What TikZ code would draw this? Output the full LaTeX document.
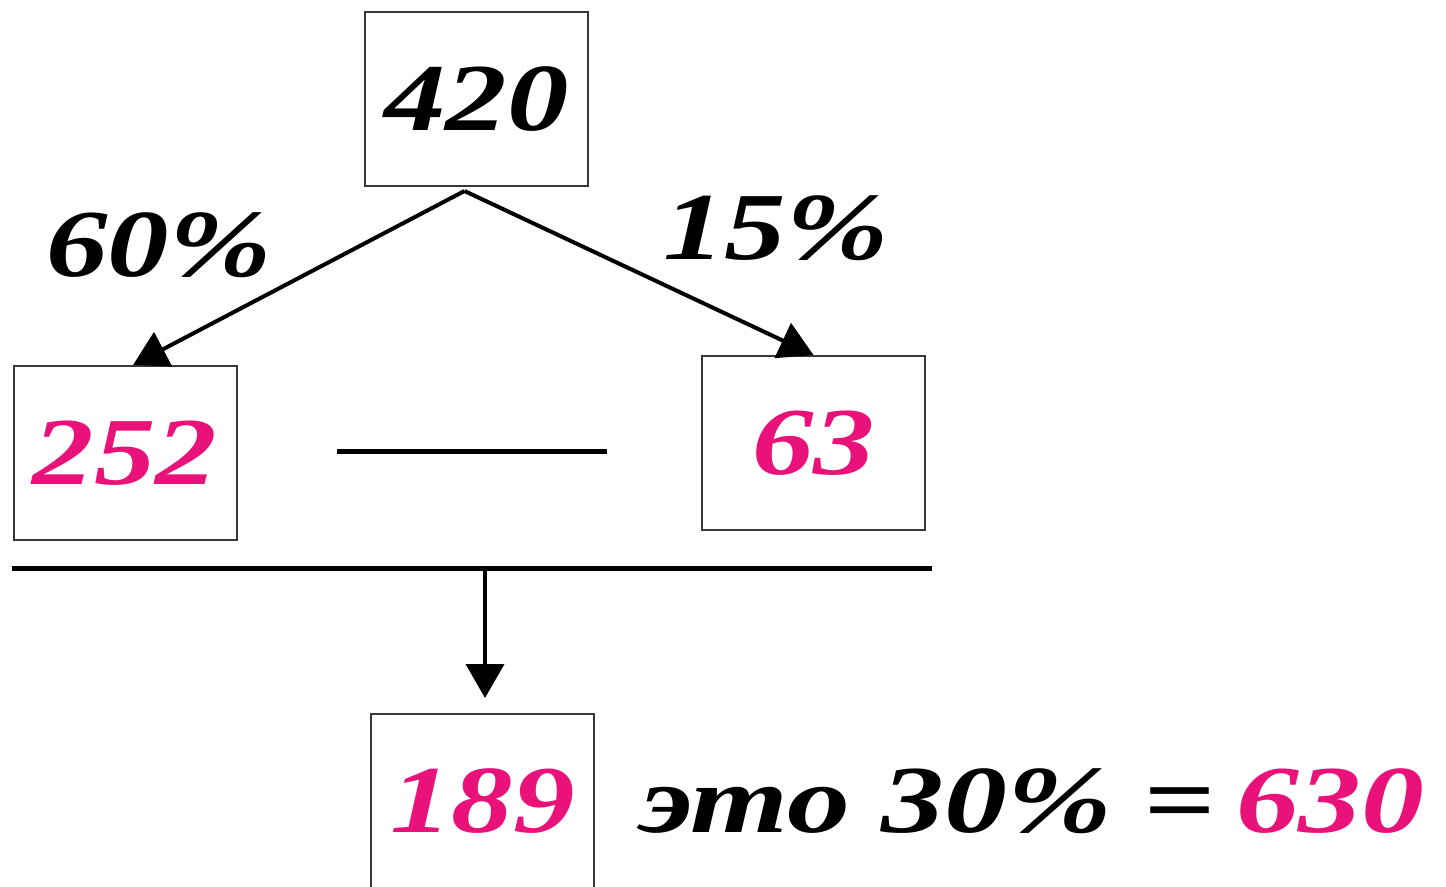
\documentclass[tikz,border=0pt]{standalone}
\usepackage{fontspec}
\newfontfamily\slidefont{Liberation Serif}[UprightFont={* Bold Italic}]
\usepackage{tikz}
\usetikzlibrary{calc}
\usetikzlibrary{arrows.meta, positioning}

\definecolor{numpink}{RGB}{232,18,122}
\definecolor{boxgray}{RGB}{55,55,55}

\newcommand{\wide}[2][1.28]{\scalebox{#1}[1]{#2}}

\tikzset{
  bignum/.style={font=\slidefont\fontsize{48}{56}\selectfont},
  numbox/.style={bignum, draw=boxgray, line width=1pt, fill=white, inner sep=0pt,
    minimum width=111.5pt, minimum height=87pt},
  pct/.style={bignum, inner sep=0pt},
  arr/.style={line width=2pt, -{Triangle[length=17pt,width=19pt]}},
  bar/.style={line width=2.5pt},
}

\begin{document}
\begin{tikzpicture}[x=0.5pt,y=0.5pt,yscale=-1,xscale=1]
\useasboundingbox (0,0) rectangle (1446,887);

% Boxes
\node[numbox] (top) at (476.5,99) {\wide{420}};
\node[numbox, text=numpink] (b252) at (125,453) {\wide{252}};
\node[numbox, text=numpink] (b63) at (813.5,443) {\wide{63}};
\node[numbox, text=numpink] (res) at (482.5,801) {\wide{189}};

% Text Node
\node[pct] (p60) at (159,245) {\wide{60\%}};
% Text Node
\node[pct] (p15) at (776,228) {\wide{15\%}};
% Text Node
\node[pct, anchor=base west] (eq) at (640,832) {\wide[1.31]{это 30\% =\,\textcolor{numpink}{630}}};

%Straight Lines
\coordinate (fork) at ($(top.south)+(-12,4)$);
\draw[arr] (fork) -- ($(b252.north)+(8,0)$);
\draw[arr] (fork) -- (b63.north);

\coordinate (dashL) at (337,452);
\coordinate (dashR) at (607,452);
\draw[bar] (dashL) -- (dashR);

\coordinate (barL) at (12,568);
\coordinate (barR) at (932,568);
\coordinate (drop) at (485,568);
\draw[bar] (barL) -- (barR);
\draw[arr] (drop) -- ($(res.north)+(2.5,-15)$);
\end{tikzpicture}
\end{document}
